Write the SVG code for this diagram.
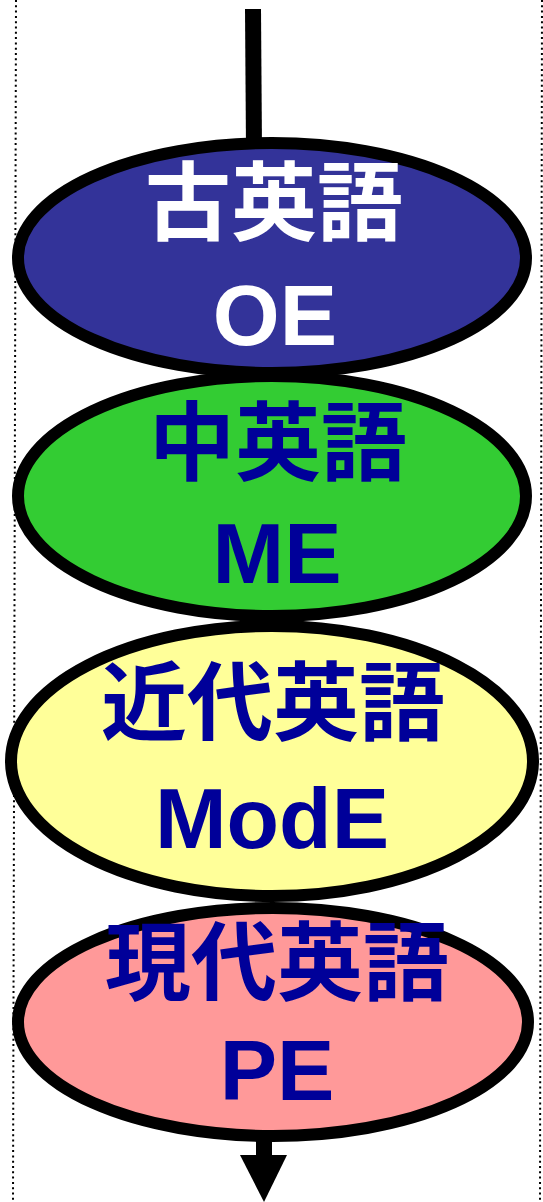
<svg xmlns="http://www.w3.org/2000/svg" width="543" height="1202" viewBox="0 0 543 1202">
<style>
.guide{stroke:#000;stroke-width:2;stroke-dasharray:2 3.3;fill:none}
.node{stroke:#000;stroke-width:12}
.t{font-family:"Liberation Sans","Noto Sans CJK JP",sans-serif;font-weight:bold;font-size:86px;text-anchor:middle;fill:#000099}
.w{fill:#ffffff}
</style>
<rect width="543" height="1202" fill="#fff"/>
<g id="guides">
<line class="guide" x1="16" y1="0" x2="13" y2="1202"/>
<line class="guide" x1="542" y1="0" x2="540" y2="1202"/>
</g>
<g id="connectors">
<line x1="253" y1="9" x2="254" y2="150" stroke="#000" stroke-width="16"/>
<line x1="264" y1="1130" x2="264" y2="1160" stroke="#000" stroke-width="16"/>
<polygon points="240,1155 287,1155 264,1202" fill="#000"/>
</g>
<g id="oe">
<ellipse class="node" cx="272" cy="258" rx="254" ry="115" fill="#333399"/>
<text class="t w" x="274" y="234">古英語</text>
<text class="t w" x="275" y="345">OE</text>
</g>
<g id="me">
<ellipse class="node" cx="272" cy="496" rx="254" ry="120" fill="#33cc33"/>
<text class="t" x="278" y="474">中英語</text>
<text class="t" x="277" y="583">ME</text>
</g>
<g id="mode">
<ellipse class="node" cx="272" cy="761" rx="261" ry="135" fill="#ffff99"/>
<text class="t" x="273" y="734">近代英語</text>
<text class="t" x="272" y="848">ModE</text>
</g>
<g id="pe">
<ellipse class="node" cx="273" cy="1022" rx="255" ry="114" fill="#ff9999"/>
<text class="t" x="277" y="994">現代英語</text>
<text class="t" x="277" y="1100">PE</text>
</g>
</svg>
